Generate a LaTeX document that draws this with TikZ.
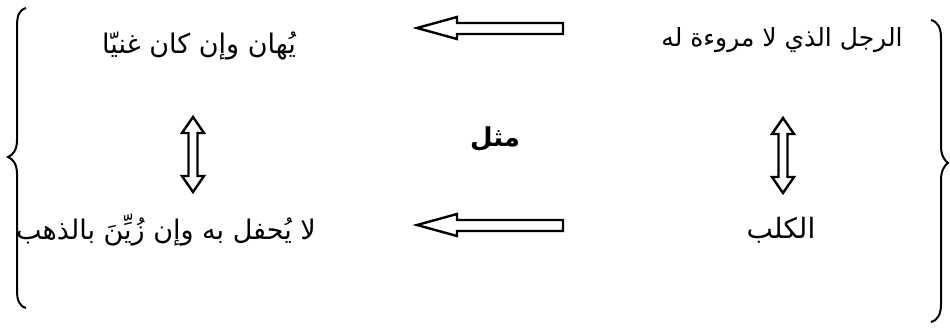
\documentclass[tikz,border=0pt]{standalone}
\usepackage{fontspec}
\TeXXeTstate=1
\newfontfamily\arabicfont[Script=Arabic]{DejaVu Sans}
\begin{document}
\begin{tikzpicture}[x=1pt,y=-1pt,
  txt/.style={font=\arabicfont\fontsize{25}{28}\selectfont, inner sep=0pt, anchor=base},
  blockarrow/.style={draw=black, line width=2.4pt, fill=white, line join=miter},
  bracepath/.style={draw=black, line width=2pt}]
\useasboundingbox (0,0) rectangle (950,327);
% texts
\node[txt] (tr) at (782,46) {\beginR الرجل الذي لا مروءة له\endR};
\node[txt, font=\arabicfont\fontsize{27}{30}\selectfont] (tl) at (199,53) {\beginR يُهان وإن كان غنيّا\endR};
\node[txt, font=\arabicfont\fontsize{27}{30}\selectfont] (bl) at (166,239) {\beginR لا يُحفل به وإن زُيِّنَ بالذهب\endR};
\node[txt, font=\arabicfont\fontsize{28}{30}\selectfont] (br) at (781,238) {\beginR الكلب\endR};
\node[txt, font=\arabicfont\bfseries\fontsize{26}{28}\selectfont] (mid) at (495,146) {\beginR مثل\endR};
% horizontal block arrows (right to left)
\draw[blockarrow] (417,28) -- (457,17) -- (457,23) -- (563,23) -- (563,34) -- (457,34) -- (457,39) -- cycle;
\draw[blockarrow] (417,225) -- (457,214) -- (457,220) -- (563,220) -- (563,231) -- (457,231) -- (457,236) -- cycle;
% vertical double block arrows
\foreach \cx/\ty/\by in {193/117/192, 783/118/193}{
  \draw[blockarrow] (\cx,\ty) -- (\cx+11,\ty+16) -- (\cx+4.5,\ty+16) -- (\cx+4.5,\by-16) -- (\cx+11,\by-16)
     -- (\cx,\by) -- (\cx-11,\by-16) -- (\cx-4.5,\by-16) -- (\cx-4.5,\ty+16) -- (\cx-11,\ty+16) -- cycle;
}
% left brace
\draw[bracepath] (26,8) .. controls (19,10) and (17,16) .. (17,26) -- (17,140)
  .. controls (17,150) and (13,155) .. (8,157)
  .. controls (13,159) and (17,164) .. (17,174) -- (17,290)
  .. controls (17,300) and (19,306) .. (26,308);
% right brace
\draw[bracepath] (931,20) .. controls (938,22) and (941,28) .. (941,38) -- (941,146)
  .. controls (941,156) and (945,161) .. (948,163)
  .. controls (945,165) and (941,170) .. (941,180) -- (941,304)
  .. controls (941,314) and (938,320) .. (931,322);
\end{tikzpicture}
\end{document}
